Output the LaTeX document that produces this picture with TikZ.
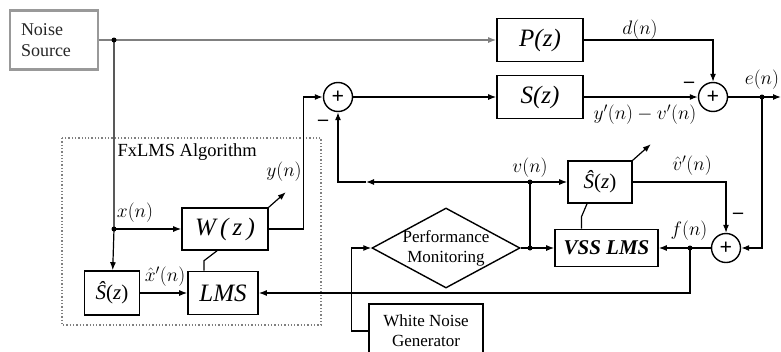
\RequirePackage{fix-cm}
\documentclass[tikz,border=0pt]{standalone}
\usepackage{fontspec}
\setmainfont{Liberation Serif}
\usetikzlibrary{arrows.meta,shapes.geometric}
\newcommand{\blockfont}{\fontsize{25}{27}\selectfont\itshape}
\newcommand{\textsz}{\fontsize{17}{20}\selectfont}
\newcommand{\sigfont}{\fontsize{19.5}{22}\selectfont}
\newcommand{\vssfont}{\fontsize{21}{23}\selectfont\bfseries\itshape}
\newcommand{\Shat}{\textit{Ŝ}(\textit{z})}

\begin{document}
\begin{tikzpicture}[
  x=1pt, y=-1pt,
  block/.style={draw, line width=1.6pt, minimum width=86pt, minimum height=43pt, inner sep=0pt, align=center},
  small/.style={block, font=\fontsize{21}{24}\selectfont},
  sum/.style={draw, circle, line width=1.4pt, minimum size=29pt, inner sep=0pt, font=\fontsize{22}{22}\selectfont\bfseries},
  sig/.style={font=\sigfont, inner sep=1pt},
  minus/.style={font=\fontsize{20}{20}\selectfont\bfseries, inner sep=1pt},
  flow/.style={->, line width=1.2pt, >={Latex[length=8pt,width=6pt]}},
  link/.style={line width=1.2pt},
]
  \useasboundingbox (0,0) rectangle (781,351);
  \draw[dotted, line width=1.3pt, gray] (62,138) rectangle (321,325);
  \node[anchor=west, font=\fontsize{18.5}{20}\selectfont] (fxlms) at (114,152) {FxLMS Algorithm};
  \node[block, draw=gray!80, line width=2.2pt, minimum width=88pt, minimum height=59pt, text width=66pt, align=left, font=\fontsize{18}{21}\selectfont, text=black!85] (src) at (54,40) {Noise\\Source};
  \node[block, font=\blockfont] (P) at (540,40) {P(z)};
  \node[block, font=\blockfont] (S) at (540,97) {S(z)};
  \node[sum] (sumA) at (338,97) {+};
  \node[sum] (sumB) at (713,97) {+};
  \node[sum] (sumC) at (726,248) {+};
  \node[block, font=\blockfont, minimum height=42pt] (W) at (225,229) {W\,(\,z\,)};
  \node[block, font=\blockfont, minimum width=70pt] (lms) at (223,293) {LMS};
  \node[small, minimum width=55pt, minimum height=44pt] (shA) at (112,293) {\Shat};
  \node[small, minimum width=64pt, minimum height=42pt] (shB) at (600,182) {\Shat};
  \node[block, font=\vssfont, minimum width=103pt, minimum height=37pt] (vss) at (606.5,248) {VSS LMS};
  \node[diamond, draw, line width=1.4pt, minimum width=148pt, minimum height=80pt, inner sep=0pt,
    label={[font=\textsz, align=center]center:Performance\\Monitoring}] (pm) at (446,248) {};
  \node[block, font=\textsz, minimum width=114pt, minimum height=54pt] (wng) at (426,331) {White Noise\\Generator};

  \coordinate (j1) at (114,40);
  \coordinate (jx) at (114,229);
  \coordinate (jv) at (530,182);
  \coordinate (jp) at (530,248);
  \coordinate (jf) at (690,248);
  \coordinate (je) at (762,97);
  \coordinate (eout) at (781,97);
  \coordinate (vm) at (366,182);

  \draw[link, gray] (src) -- (j1);
  \draw[flow, gray] (j1) -- (P);
  \draw[flow] (j1) -- (jx) -- (shA);
  \draw[flow] (jx) -- (W);
  \draw[flow] (shA) -- (lms);
  \draw[flow] (W.east) -- ++(35,0) |- (sumA);
  \draw[flow] (sumA) -- (S);
  \draw[flow] (P) -| (sumB);
  \draw[flow] (S) -- (sumB);
  \draw[link] (sumB) -- (je);
  \draw[flow] (je) -- (eout);
  \draw[flow] (je) |- (sumC);
  \draw[link] (sumC) -- (jf);
  \draw[flow] (jf) -- (vss);
  \draw[flow] (jf) |- (lms);
  \draw[flow] (shB) -| (sumC);
  \draw[link] (pm) -- (jp);
  \draw[flow] (jp) -- (vss);
  \draw[link] (jp) -- (jv);
  \draw[flow] (jv) -- (shB);
  \draw[flow] (jv) -- (vm);
  \draw[flow] (vm) -| (sumA);
  \draw[flow] (wng.west) -- ++(-17,0) |- (pm);
  \draw[link] ([xshift=-19pt]lms.north) -- ++(0,-10) -- ([xshift=-8pt]W.south);
  \draw[link] ([xshift=-25pt]vss.north) -- ++(0,-12) -- ([xshift=-13pt]shB.south);
  \draw[flow] (W.north east) -- ++(17,-15);
  \draw[flow] (shB.north east) -- ++(18,-16);
  \foreach \p in {j1,jx,jv,jp,jf,je}
    \fill (\p) circle (2.5pt);

  \node[sig] (dlab) at (640,30) {$d(n)$};
  \node[sig] (elab) at (762,80) {$e(n)$};
  \node[sig] (yvlab) at (645,115) {$y'(n)-v'(n)$};
  \node[sig] (xlab) at (135,213) {$x(n)$};
  \node[sig] (ylab) at (284,172) {$y(n)$};
  \node[sig] (xhlab) at (165,277) {$\hat{x}'(n)$};
  \node[sig] (vlab) at (530,168) {$v(n)$};
  \node[sig] (vhlab) at (692,166) {$\hat{v}'(n)$};
  \node[sig] (flab) at (689,231) {$f(n)$};
  \node[minus] (mA) at (323,123) {--};
  \node[minus] (mB) at (689,85) {--};
  \node[minus] (mC) at (738,216) {--};
\end{tikzpicture}
\end{document}
